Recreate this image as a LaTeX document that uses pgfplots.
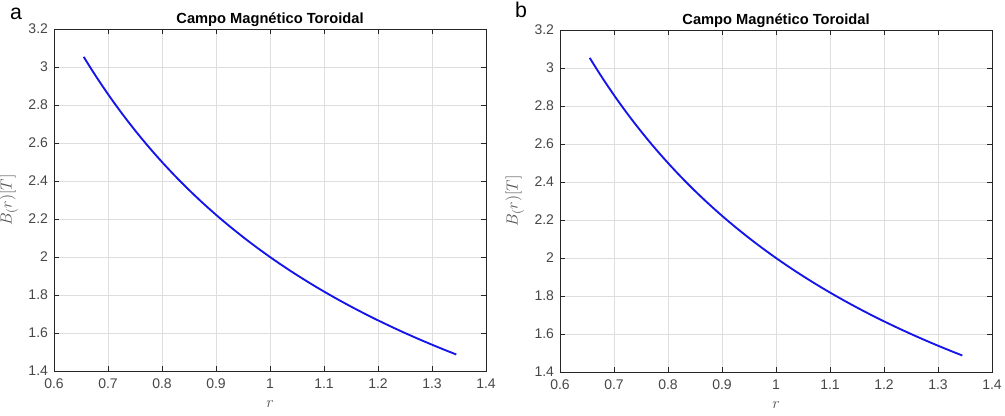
\documentclass[border=0pt]{standalone}
\usepackage{fontspec}
\setmainfont{Liberation Sans}
\usepackage{pgfplots}
\usepackage{pgfplotstable}
\pgfplotsset{compat=1.18}
\definecolor{axgray}{RGB}{38,38,38}
\definecolor{gridgray}{RGB}{222,222,222}
\definecolor{mblue}{RGB}{20,20,235}

\pgfplotstableread{
r B
0.655 3.0534
0.675 2.9630
0.700 2.8571
0.725 2.7586
0.750 2.6667
0.775 2.5806
0.800 2.5000
0.825 2.4242
0.850 2.3529
0.875 2.2857
0.900 2.2222
0.925 2.1622
0.950 2.1053
0.975 2.0513
1.000 2.0000
1.025 1.9512
1.050 1.9048
1.075 1.8605
1.100 1.8182
1.125 1.7778
1.150 1.7391
1.175 1.7021
1.200 1.6667
1.225 1.6327
1.250 1.6000
1.275 1.5686
1.300 1.5385
1.325 1.5094
1.345 1.4870
}\datab

\pgfplotsset{
  toro/.style={
    scale only axis,
    width=324pt, height=256.5pt,
    xmin=0.6, xmax=1.4, ymin=1.4, ymax=3.2,
    xtick={0.6,0.7,...,1.41},
    ytick={1.4,1.6,...,3.21},
    tick align=inside,
    major tick length=4pt,
    axis line style={axgray, line width=0.6pt},
    every tick/.style={axgray, line width=0.5pt},
    grid=major,
    major grid style={gridgray, line width=0.5pt},
    tick label style={font=\fontsize{10.5}{12}\selectfont, text=axgray!85},
    xticklabel style={yshift=-2.5pt},
    yticklabel style={xshift=-1pt},
    /pgf/number format/assume math mode=true,
    title style={font=\fontsize{11}{13}\selectfont\bfseries, yshift=-8pt},
    title={Campo Magnético Toroidal},
    xlabel={$r$},
    ylabel={$B_(r)[T]$},
    label style={font=\fontsize{13}{15}\selectfont, text=axgray!80},
    xlabel style={yshift=-1.5pt},
    ylabel style={yshift=1pt},
  }
}

\begin{document}
\begin{tikzpicture}
\useasboundingbox (0,0) rectangle (753.75pt,311.25pt);
\begin{axis}[toro, at={(40.5pt,33pt)}, anchor=south west]
\addplot[mblue, line width=1.4pt, smooth] table[x=r, y=B] {\datab};
\end{axis}
\begin{axis}[toro, at={(420pt,32.25pt)}, anchor=south west]
\addplot[mblue, line width=1.4pt, smooth] table[x=r, y=B] {\datab};
\end{axis}
\node[font=\fontsize{16}{18}\selectfont, anchor=base] at (12pt,296.25pt) {a};
\node[font=\fontsize{16}{18}\selectfont, anchor=base] at (390.75pt,297.75pt) {b};
\end{tikzpicture}
\end{document}
